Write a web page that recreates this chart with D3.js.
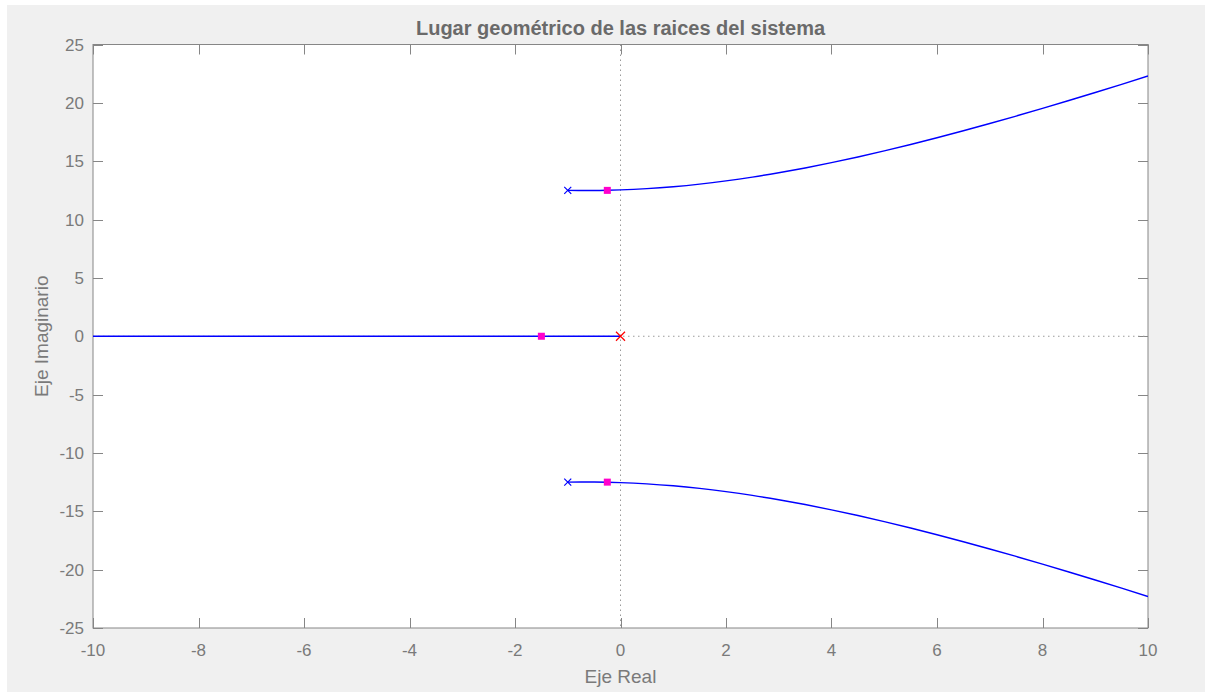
<!DOCTYPE html>
<html>
<head>
<meta charset="utf-8">
<script src="https://cdn.jsdelivr.net/npm/d3@7"></script>
<style>
  html, body { margin: 0; padding: 0; background: #ffffff; }
  svg { display: block; }
  text { font-family: "Liberation Sans", Arial, Helvetica, sans-serif; }
</style>
</head>
<body>
<svg id="chart" width="1205" height="693"></svg>
<script>
// Root locus of the system: open-loop poles, closed-loop poles and branches
const xTicks = [-10, -8, -6, -4, -2, 0, 2, 4, 6, 8, 10];
const yTicks = [-25, -20, -15, -10, -5, 0, 5, 10, 15, 20, 25];

// Complex branches (real part, imaginary part)
const branchRe = [-1, -0.75, -0.5, -0.25, 0, 0.5, 1, 1.5, 2, 2.5, 3, 3.5, 4, 4.5,
                  5, 5.5, 6, 6.5, 7, 7.5, 8, 8.5, 9, 9.5, 10];
const upperIm = [12.50, 12.487, 12.49, 12.508, 12.54, 12.649, 12.816, 13.038, 13.314,
                 13.638, 14.009, 14.422, 14.874, 15.362, 15.882, 16.432, 17.007,
                 17.607, 18.228, 18.868, 19.526, 20.199, 20.887, 21.587, 22.299];
const lowerIm = [-12.50, -12.487, -12.49, -12.508, -12.54, -12.649, -12.816, -13.038, -13.314,
                 -13.638, -14.009, -14.422, -14.874, -15.362, -15.882, -16.432, -17.007,
                 -17.607, -18.228, -18.868, -19.526, -20.199, -20.887, -21.587, -22.299];
// Real-axis branch
const realBranchRe = [-10, 0];
const realBranchIm = [0, 0];

// Open-loop poles
const polesRe = [-1, -1];
const polesIm = [12.5, -12.5];
const originPoleRe = [0];
const originPoleIm = [0];
// Closed-loop poles at the selected gain
const clPolesRe = [-0.25, -0.25, -1.5];
const clPolesIm = [12.5, -12.5, 0];

const svg = d3.select("#chart");
const W = 1205, H = 693;

// figure background
svg.append("rect").attr("x", 7).attr("y", 5).attr("width", W - 7).attr("height", 687)
  .attr("fill", "#f0f0f0");

const mLeft = 93, mRight = 1148, mTop = 44.5, mBottom = 628;
const x = d3.scaleLinear().domain([-10, 10]).range([mLeft, mRight]);
const y = d3.scaleLinear().domain([-25, 25]).range([mBottom, mTop]);

svg.append("rect").attr("x", mLeft).attr("y", mTop)
  .attr("width", mRight - mLeft).attr("height", mBottom - mTop).attr("fill", "#ffffff");

const axisColor = "#868686";
const textColor = "#7a7a7a";

// axes box and inward ticks on all four sides
svg.append("rect").attr("x", mLeft).attr("y", mTop)
  .attr("width", mRight - mLeft).attr("height", mBottom - mTop)
  .attr("fill", "none").attr("stroke", axisColor).attr("stroke-width", 1);

const tickLen = 10;
const axes = svg.append("g").attr("stroke", axisColor).attr("stroke-width", 1);
xTicks.forEach(t => {
  const px = Math.round(x(t)) + 0.5;
  axes.append("line").attr("x1", px).attr("x2", px).attr("y1", mBottom).attr("y2", mBottom - tickLen);
  axes.append("line").attr("x1", px).attr("x2", px).attr("y1", mTop).attr("y2", mTop + tickLen);
});
yTicks.forEach(t => {
  const py = Math.round(y(t)) + 0.5;
  axes.append("line").attr("x1", mLeft).attr("x2", mLeft + tickLen).attr("y1", py).attr("y2", py);
  axes.append("line").attr("x1", mRight).attr("x2", mRight - tickLen).attr("y1", py).attr("y2", py);
});

// dotted reference lines through the origin
const clipId = "plotclip";
svg.append("clipPath").attr("id", clipId).append("rect")
  .attr("x", mLeft).attr("y", mTop).attr("width", mRight - mLeft).attr("height", mBottom - mTop);
const plot = svg.append("g").attr("clip-path", `url(#${clipId})`);

plot.append("line").attr("x1", x(0)).attr("x2", x(0)).attr("y1", y(25)).attr("y2", y(-25))
  .attr("stroke", "#9a9a9a").attr("stroke-width", 1).attr("stroke-dasharray", "1.5,3.5");
plot.append("line").attr("x1", x(-10)).attr("x2", x(10)).attr("y1", y(0)).attr("y2", y(0))
  .attr("stroke", "#9a9a9a").attr("stroke-width", 1).attr("stroke-dasharray", "1.5,3.5");

// branches
const curveLine = d3.line().x(d => x(d[0])).y(d => y(d[1])).curve(d3.curveMonotoneX);
const straightLine = d3.line().x(d => x(d[0])).y(d => y(d[1]));
const upper = branchRe.map((r, i) => [r, upperIm[i]]);
const lower = branchRe.map((r, i) => [r, lowerIm[i]]);
const realB = realBranchRe.map((r, i) => [r, realBranchIm[i]]);
[curveLine(upper), curveLine(lower), straightLine(realB)].forEach(d => {
  plot.append("path").attr("d", d).attr("fill", "none")
    .attr("stroke", "#0000ff").attr("stroke-width", 1.4);
});

// pole markers (x)
function cross(g, cx, cy, s, color, w) {
  g.append("path")
    .attr("d", `M${cx - s},${cy - s}L${cx + s},${cy + s}M${cx - s},${cy + s}L${cx + s},${cy - s}`)
    .attr("stroke", color).attr("stroke-width", w).attr("fill", "none");
}
polesRe.forEach((r, i) => cross(plot, x(r), y(polesIm[i]), 3.5, "#0000ff", 1.2));
originPoleRe.forEach((r, i) => cross(plot, x(r), y(originPoleIm[i]), 4.5, "#ff0000", 1.2));

// closed-loop pole markers (squares)
clPolesRe.forEach((r, i) => {
  plot.append("rect").attr("x", x(r) - 3.5).attr("y", y(clPolesIm[i]) - 3.5)
    .attr("width", 7).attr("height", 7).attr("fill", "#ff00cc");
});

// tick labels
svg.append("g").selectAll("text").data(xTicks).join("text")
  .attr("x", d => x(d)).attr("y", 656)
  .attr("text-anchor", "middle").attr("font-size", 17).attr("fill", textColor)
  .text(d => d);
svg.append("g").selectAll("text").data(yTicks).join("text")
  .attr("x", 84).attr("y", d => y(d) + 6)
  .attr("text-anchor", "end").attr("font-size", 17).attr("fill", textColor)
  .text(d => d);

// axis labels and title
svg.append("text").attr("x", (mLeft + mRight) / 2).attr("y", 683)
  .attr("text-anchor", "middle").attr("font-size", 19).attr("fill", textColor)
  .text("Eje Real");
svg.append("text").attr("transform", `translate(48,${(mTop + mBottom) / 2}) rotate(-90)`)
  .attr("text-anchor", "middle").attr("font-size", 19).attr("fill", textColor)
  .text("Eje Imaginario");
svg.append("text").attr("x", (mLeft + mRight) / 2).attr("y", 35)
  .attr("text-anchor", "middle").attr("font-size", 20).attr("font-weight", "bold")
  .attr("fill", "#6a6a6a")
  .text("Lugar geométrico de las raices del sistema");
</script>
</body>
</html>
